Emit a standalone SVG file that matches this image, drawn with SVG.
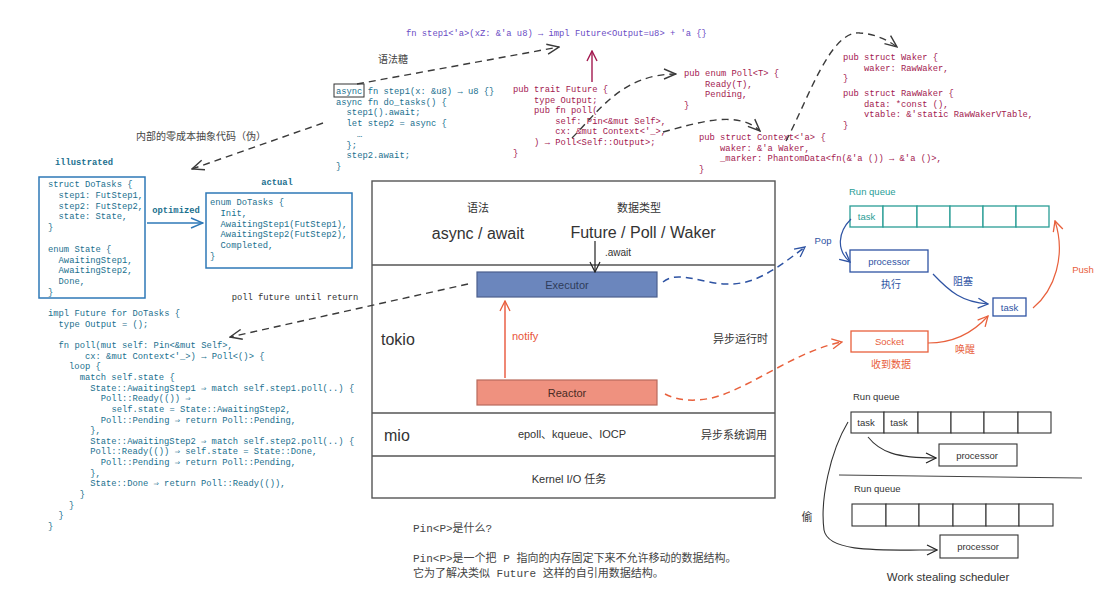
<svg xmlns="http://www.w3.org/2000/svg" width="1111" height="596" viewBox="0 0 1111 596">
<style>
.mono{font-family:"Liberation Mono","DejaVu Sans Mono","Noto Sans CJK SC",monospace;font-size:8.8px}
.sans{font-family:"Liberation Sans","Noto Sans CJK SC",sans-serif}
.purple{fill:#6a4bc4}
.crim{fill:#a3194f}
.teal{fill:#1a6f8e}
.dk{fill:#333}
.dash{fill:none;stroke:#3a3a3a;stroke-width:1.4;stroke-dasharray:7 5}
.layer{fill:none;stroke:#555;stroke-width:1.4}
.q{fill:#fff;stroke:#2a9d96;stroke-width:1.3}
.gq{fill:#fff;stroke:#333;stroke-width:1.1}
.c{text-anchor:middle}
</style>
<defs>
<marker id="ag" viewBox="0 0 14 12" refX="13" refY="6" markerWidth="14" markerHeight="12" markerUnits="userSpaceOnUse" orient="auto"><path d="M1,1 L13,6 L1,11" fill="none" stroke="#3a3a3a" stroke-width="1.4"/></marker>
<marker id="ak" viewBox="0 0 12 12" refX="11" refY="6" markerWidth="12" markerHeight="12" markerUnits="userSpaceOnUse" orient="auto"><path d="M1,1 L11,6 L1,11" fill="none" stroke="#222" stroke-width="1.2"/></marker>
<marker id="acr" viewBox="0 0 12 12" refX="11" refY="6" markerWidth="12" markerHeight="12" markerUnits="userSpaceOnUse" orient="auto"><path d="M1,1 L11,6 L1,11" fill="none" stroke="#a3194f" stroke-width="1.4"/></marker>
<marker id="ab" viewBox="0 0 14 12" refX="13" refY="6" markerWidth="14" markerHeight="12" markerUnits="userSpaceOnUse" orient="auto"><path d="M1,1 L13,6 L1,11" fill="none" stroke="#2e78b7" stroke-width="1.4"/></marker>
<marker id="abl" viewBox="0 0 12 12" refX="11" refY="6" markerWidth="12" markerHeight="12" markerUnits="userSpaceOnUse" orient="auto"><path d="M1,1 L11,6 L1,11" fill="none" stroke="#2e53a3" stroke-width="1.3"/></marker>
<marker id="ar" viewBox="0 0 12 12" refX="11" refY="6" markerWidth="12" markerHeight="12" markerUnits="userSpaceOnUse" orient="auto"><path d="M1,1 L11,6 L1,11" fill="none" stroke="#e8603c" stroke-width="1.3"/></marker>
</defs>
<rect width="1111" height="596" fill="#fff"/>

<g id="sig">
<text class="mono purple" x="406" y="36">fn step1&lt;'a&gt;(xZ: &amp;'a u8) → impl Future&lt;Output=u8&gt; + 'a {}</text>
</g>

<g id="async-code">
<rect x="334" y="84" width="30" height="13" fill="none" stroke="#333" stroke-width="1"/>
<text class="mono teal" x="336" y="94">async fn step1(x: &amp;u8) → u8 {}</text>
<text class="mono teal" x="336" y="104.7">async fn do_tasks() {</text>
<text class="mono teal" x="346.6" y="115.4">step1().await;</text>
<text class="mono teal" x="346.6" y="126.1">let step2 = async {</text>
<text class="mono teal" x="357.1" y="136.8">…</text>
<text class="mono teal" x="346.6" y="147.5">};</text>
<text class="mono teal" x="346.6" y="158.2">step2.await;</text>
<text class="mono teal" x="336" y="168.9">}</text>
</g>

<g id="future-trait">
<text class="mono crim" x="513" y="92">pub trait Future {</text>
<text class="mono crim" x="534.1" y="102.6">type Output;</text>
<text class="mono crim" x="534.1" y="113.2">pub fn poll(</text>
<text class="mono crim" x="555.2" y="123.8">self: Pin&lt;&amp;mut Self&gt;,</text>
<text class="mono crim" x="555.2" y="134.4">cx: &amp;mut Context&lt;'_&gt;,</text>
<text class="mono crim" x="534.1" y="145">) → Poll&lt;Self::Output&gt;;</text>
<text class="mono crim" x="513" y="155.6">}</text>
</g>

<g id="poll-enum">
<text class="mono crim" x="684" y="76">pub enum Poll&lt;T&gt; {</text>
<text class="mono crim" x="705.1" y="86.6">Ready(T),</text>
<text class="mono crim" x="705.1" y="97.2">Pending,</text>
<text class="mono crim" x="684" y="107.8">}</text>
</g>

<g id="context-struct">
<text class="mono crim" x="699" y="140">pub struct Context&lt;'a&gt; {</text>
<text class="mono crim" x="720.1" y="150.6">waker: &amp;'a Waker,</text>
<text class="mono crim" x="720.1" y="161.2">_marker: PhantomData&lt;fn(&amp;'a ()) → &amp;'a ()&gt;,</text>
<text class="mono crim" x="699" y="171.8">}</text>
</g>

<g id="waker-struct">
<text class="mono crim" x="843" y="60">pub struct Waker {</text>
<text class="mono crim" x="864.1" y="70.6">waker: RawWaker,</text>
<text class="mono crim" x="843" y="81.2">}</text>
<text class="mono crim" x="843" y="96">pub struct RawWaker {</text>
<text class="mono crim" x="864.1" y="106.6">data: *const (),</text>
<text class="mono crim" x="864.1" y="117.2">vtable: &amp;'static RawWakerVTable,</text>
<text class="mono crim" x="843" y="127.8">}</text>
</g>

<g id="labels-left">
<text class="sans c" x="393" y="63" font-size="10" fill="#444">语法糖</text>
<text class="sans c" x="201" y="140" font-size="10" fill="#444">内部的零成本抽象代码（伪）</text>
<text class="mono teal c" x="84" y="165" font-weight="bold">illustrated</text>
<text class="mono teal c" x="277" y="185" font-weight="bold">actual</text>
<text class="mono teal c" x="176" y="213" font-weight="bold">optimized</text>
<text class="mono dk c" x="295" y="300">poll future until return</text>
</g>

<g id="illustrated-box">
<rect x="39" y="177" width="106" height="121" fill="#fff" stroke="#2e78b7" stroke-width="1.5"/>
<text class="mono teal" x="48" y="187">struct DoTasks {</text>
<text class="mono teal" x="58.6" y="197.8">step1: FutStep1,</text>
<text class="mono teal" x="58.6" y="208.6">step2: FutStep2,</text>
<text class="mono teal" x="58.6" y="219.4">state: State,</text>
<text class="mono teal" x="48" y="230.2">}</text>
<text class="mono teal" x="48" y="251.8">enum State {</text>
<text class="mono teal" x="58.6" y="262.6">AwaitingStep1,</text>
<text class="mono teal" x="58.6" y="273.4">AwaitingStep2,</text>
<text class="mono teal" x="58.6" y="284.2">Done,</text>
<text class="mono teal" x="48" y="295">}</text>
</g>

<g id="actual-box">
<rect x="206" y="193" width="146" height="75" fill="#fff" stroke="#2e78b7" stroke-width="1.5"/>
<text class="mono teal" x="210" y="205">enum DoTasks {</text>
<text class="mono teal" x="220.6" y="215.8">Init,</text>
<text class="mono teal" x="220.6" y="226.6">AwaitingStep1(FutStep1),</text>
<text class="mono teal" x="220.6" y="237.4">AwaitingStep2(FutStep2),</text>
<text class="mono teal" x="220.6" y="248.2">Completed,</text>
<text class="mono teal" x="210" y="259">}</text>
</g>

<g id="impl-code">
<text class="mono teal" x="48" y="316">impl Future for DoTasks {</text>
<text class="mono teal" x="58.6" y="326.65">type Output = ();</text>
<text class="mono teal" x="58.6" y="347.95">fn poll(mut self: Pin&lt;&amp;mut Self&gt;,</text>
<text class="mono teal" x="85" y="358.6">cx: &amp;mut Context&lt;'_&gt;) → Poll&lt;()&gt; {</text>
<text class="mono teal" x="69.1" y="369.25">loop {</text>
<text class="mono teal" x="79.7" y="379.9">match self.state {</text>
<text class="mono teal" x="90.2" y="390.55">State::AwaitingStep1 ⇒ match self.step1.poll(..) {</text>
<text class="mono teal" x="100.8" y="401.2">Poll::Ready(()) ⇒</text>
<text class="mono teal" x="111.4" y="411.85">self.state = State::AwaitingStep2,</text>
<text class="mono teal" x="100.8" y="422.5">Poll::Pending ⇒ return Poll::Pending,</text>
<text class="mono teal" x="90.2" y="433.15">},</text>
<text class="mono teal" x="90.2" y="443.8">State::AwaitingStep2 ⇒ match self.step2.poll(..) {</text>
<text class="mono teal" x="90.2" y="454.45">Poll::Ready(()) ⇒ self.state = State::Done,</text>
<text class="mono teal" x="100.8" y="465.1">Poll::Pending ⇒ return Poll::Pending,</text>
<text class="mono teal" x="90.2" y="475.75">},</text>
<text class="mono teal" x="90.2" y="486.4">State::Done ⇒ return Poll::Ready(()),</text>
<text class="mono teal" x="79.7" y="497.05">}</text>
<text class="mono teal" x="69.1" y="507.7">}</text>
<text class="mono teal" x="58.6" y="518.35">}</text>
<text class="mono teal" x="48" y="529">}</text>
</g>

<g id="stack">
<rect x="372" y="181" width="403" height="317" class="layer"/>
<line x1="372" y1="265" x2="775" y2="265" class="layer"/>
<line x1="372" y1="413" x2="775" y2="413" class="layer"/>
<line x1="372" y1="456" x2="775" y2="456" class="layer"/>
<text class="sans c" x="478" y="212" font-size="11" fill="#333">语法</text>
<text class="sans c" x="478" y="239" font-size="16" fill="#333">async / await</text>
<text class="sans c" x="639" y="212" font-size="11" fill="#333">数据类型</text>
<text class="sans c" x="643" y="238" font-size="16" fill="#333">Future / Poll / Waker</text>
<text class="sans" x="605" y="256" font-size="10" fill="#333">.await</text>
<text class="sans" x="381" y="345" font-size="16" fill="#333">tokio</text>
<text class="sans" x="713" y="343" font-size="11" fill="#333">异步运行时</text>
<text class="sans" x="384" y="441" font-size="16" fill="#333">mio</text>
<text class="sans c" x="572" y="438" font-size="11" fill="#333">epoll、kqueue、IOCP</text>
<text class="sans" x="701" y="439" font-size="11" fill="#333">异步系统调用</text>
<text class="sans c" x="569" y="483" font-size="11" fill="#333">Kernel I/O 任务</text>
</g>

<g id="executor">
<rect x="477" y="272" width="180" height="25" fill="#6b86bd" stroke="#4b5f8d" stroke-width="1.2"/>
<text class="sans c" x="567" y="288.5" font-size="11" fill="#2f3c5a">Executor</text>
</g>
<g id="reactor">
<rect x="477" y="380" width="180" height="25" fill="#ef917f" stroke="#b86a5c" stroke-width="1.2"/>
<text class="sans c" x="567" y="396.5" font-size="11" fill="#4a2b25">Reactor</text>
</g>
<text class="sans" x="512" y="340" font-size="11" fill="#e8553a">notify</text>

<g id="run-queue">
<text class="sans" x="849" y="195" font-size="9.5" fill="#2a9d96">Run queue</text>
<rect x="850" y="206" width="33" height="21" class="q"/>
<rect x="883" y="206" width="34" height="21" class="q"/>
<rect x="917" y="206" width="33" height="21" class="q"/>
<rect x="950" y="206" width="33" height="21" class="q"/>
<rect x="983" y="206" width="33" height="21" class="q"/>
<rect x="1016" y="206" width="33" height="21" class="q"/>
<text class="sans c" x="866.5" y="220" font-size="9.5" fill="#2a9d96">task</text>
</g>

<g id="processor">
<rect x="850" y="250" width="78" height="22" fill="#fff" stroke="#2e53a3" stroke-width="1.3"/>
<text class="sans c" x="889" y="264.5" font-size="9.5" fill="#2e53a3">processor</text>
<text class="sans c" x="891" y="288" font-size="10" fill="#2e53a3">执行</text>
</g>

<g id="task-blocked">
<rect x="993" y="298" width="33" height="18" fill="#fff" stroke="#2e53a3" stroke-width="1.3"/>
<text class="sans c" x="1009.5" y="310.5" font-size="9.5" fill="#2e53a3">task</text>
</g>

<g id="socket">
<rect x="851" y="331" width="77" height="21" fill="#fff" stroke="#e8603c" stroke-width="1.3"/>
<text class="sans c" x="889.5" y="345" font-size="9.5" fill="#e8603c">Socket</text>
<text class="sans c" x="891" y="368" font-size="10" fill="#e8603c">收到数据</text>
</g>

<g id="right-labels">
<text class="sans c" x="823" y="243.5" font-size="9.5" fill="#2e53a3">Pop</text>
<text class="sans c" x="963" y="285" font-size="10" fill="#2e53a3">阻塞</text>
<text class="sans c" x="965" y="353" font-size="10" fill="#e8603c">唤醒</text>
<text class="sans c" x="1083" y="272.5" font-size="9.5" fill="#e8603c">Push</text>
</g>

<g id="ws-queue1">
<text class="sans" x="853" y="400" font-size="9.5" fill="#333">Run queue</text>
<rect x="851" y="412" width="33" height="21" class="gq"/>
<rect x="884" y="412" width="34" height="21" class="gq"/>
<rect x="918" y="412" width="33" height="21" class="gq"/>
<rect x="951" y="412" width="33" height="21" class="gq"/>
<rect x="984" y="412" width="34" height="21" class="gq"/>
<rect x="1018" y="412" width="33" height="21" class="gq"/>
<text class="sans c" x="866" y="426" font-size="9.5" fill="#333">task</text>
<text class="sans c" x="899" y="426" font-size="9.5" fill="#333">task</text>
</g>
<g id="ws-processor1">
<rect x="939" y="444" width="78" height="22" class="gq"/>
<text class="sans c" x="977" y="458.5" font-size="9.5" fill="#333">processor</text>
</g>
<g id="ws-queue2">
<text class="sans" x="854" y="492" font-size="9.5" fill="#333">Run queue</text>
<rect x="852" y="504" width="34" height="22" class="gq"/>
<rect x="886" y="504" width="33" height="22" class="gq"/>
<rect x="919" y="504" width="34" height="22" class="gq"/>
<rect x="953" y="504" width="33" height="22" class="gq"/>
<rect x="986" y="504" width="33" height="22" class="gq"/>
<rect x="1019" y="504" width="34" height="22" class="gq"/>
</g>
<g id="ws-processor2">
<rect x="940" y="535" width="78" height="23" class="gq"/>
<text class="sans c" x="978" y="550" font-size="9.5" fill="#333">processor</text>
</g>
<line x1="839" y1="475" x2="1082" y2="478" stroke="#444" stroke-width="1.1"/>
<text class="sans c" x="807" y="521" font-size="11" fill="#333">偷</text>
<text class="sans c" x="948" y="581" font-size="11.5" fill="#333">Work stealing scheduler</text>

<g id="pin-note">
<text class="mono" x="413" y="532" style="font-size:11px" fill="#444">Pin&lt;P&gt;是什么?</text>
<text class="mono" x="413" y="562" style="font-size:11px" fill="#444">Pin&lt;P&gt;是一个把 P 指向的内存固定下来不允许移动的数据结构。</text>
<text class="mono" x="413" y="577" style="font-size:11px" fill="#444">它为了解决类似 Future 这样的自引用数据结构。</text>
</g>

<g id="connectors">
<path d="M357,84 L559,47" class="dash" marker-end="url(#ag)"/>
<path d="M592,82 L592,51" fill="none" stroke="#a3194f" stroke-width="1.4" marker-end="url(#acr)"/>
<path d="M572,138 C 598,112 622,74 676,74" class="dash" marker-end="url(#ag)"/>
<path d="M663,132 C 700,122 738,110 760,131" class="dash" marker-end="url(#ag)"/>
<path d="M786,141 C 808,100 830,30 860,33 C 875,34 888,40 897,47" class="dash" marker-end="url(#ag)"/>
<path d="M323,123 L192,169" class="dash" marker-end="url(#ag)"/>
<path d="M147,223 L203,223" fill="none" stroke="#2e78b7" stroke-width="1.5" marker-end="url(#ab)"/>
<path d="M468,284 L230,337" class="dash" marker-end="url(#ag)"/>
<path d="M595,241 L595,272" fill="none" stroke="#222" stroke-width="1.2" marker-end="url(#ak)"/>
<path d="M505,378 L505,301" fill="none" stroke="#e8553a" stroke-width="1.4" marker-end="url(#ar)"/>
<path d="M663,282 C 678,270 700,283 725,284 C 752,285 770,274 805,247" fill="none" stroke="#2e53a3" stroke-width="1.5" stroke-dasharray="7 5" marker-end="url(#abl)"/>
<path d="M665,394 C 680,402 702,402 722,395 C 760,381 800,350 842,342" fill="none" stroke="#e8603c" stroke-width="1.5" stroke-dasharray="7 5" marker-end="url(#ar)"/>
<path d="M851,219 C 838,232 836,250 850,262" fill="none" stroke="#2e53a3" stroke-width="1.2" marker-end="url(#abl)"/>
<path d="M933,274 C 950,292 962,302 988,304" fill="none" stroke="#2e53a3" stroke-width="1.2" marker-end="url(#abl)"/>
<path d="M928,343 C 952,343 972,334 988,316" fill="none" stroke="#e8603c" stroke-width="1.2" marker-end="url(#ar)"/>
<path d="M1033,308 C 1055,290 1066,255 1055,221" fill="none" stroke="#e8603c" stroke-width="1.2" marker-end="url(#ar)"/>
<path d="M868,437 C 880,452 896,458 936,458" fill="none" stroke="#333" stroke-width="1.1" marker-end="url(#ak)"/>
<path d="M848,422 C 830,452 820,500 824,530 C 828,553 880,550 937,550" fill="none" stroke="#333" stroke-width="1.1" marker-end="url(#ak)"/>
</g>
</svg>
